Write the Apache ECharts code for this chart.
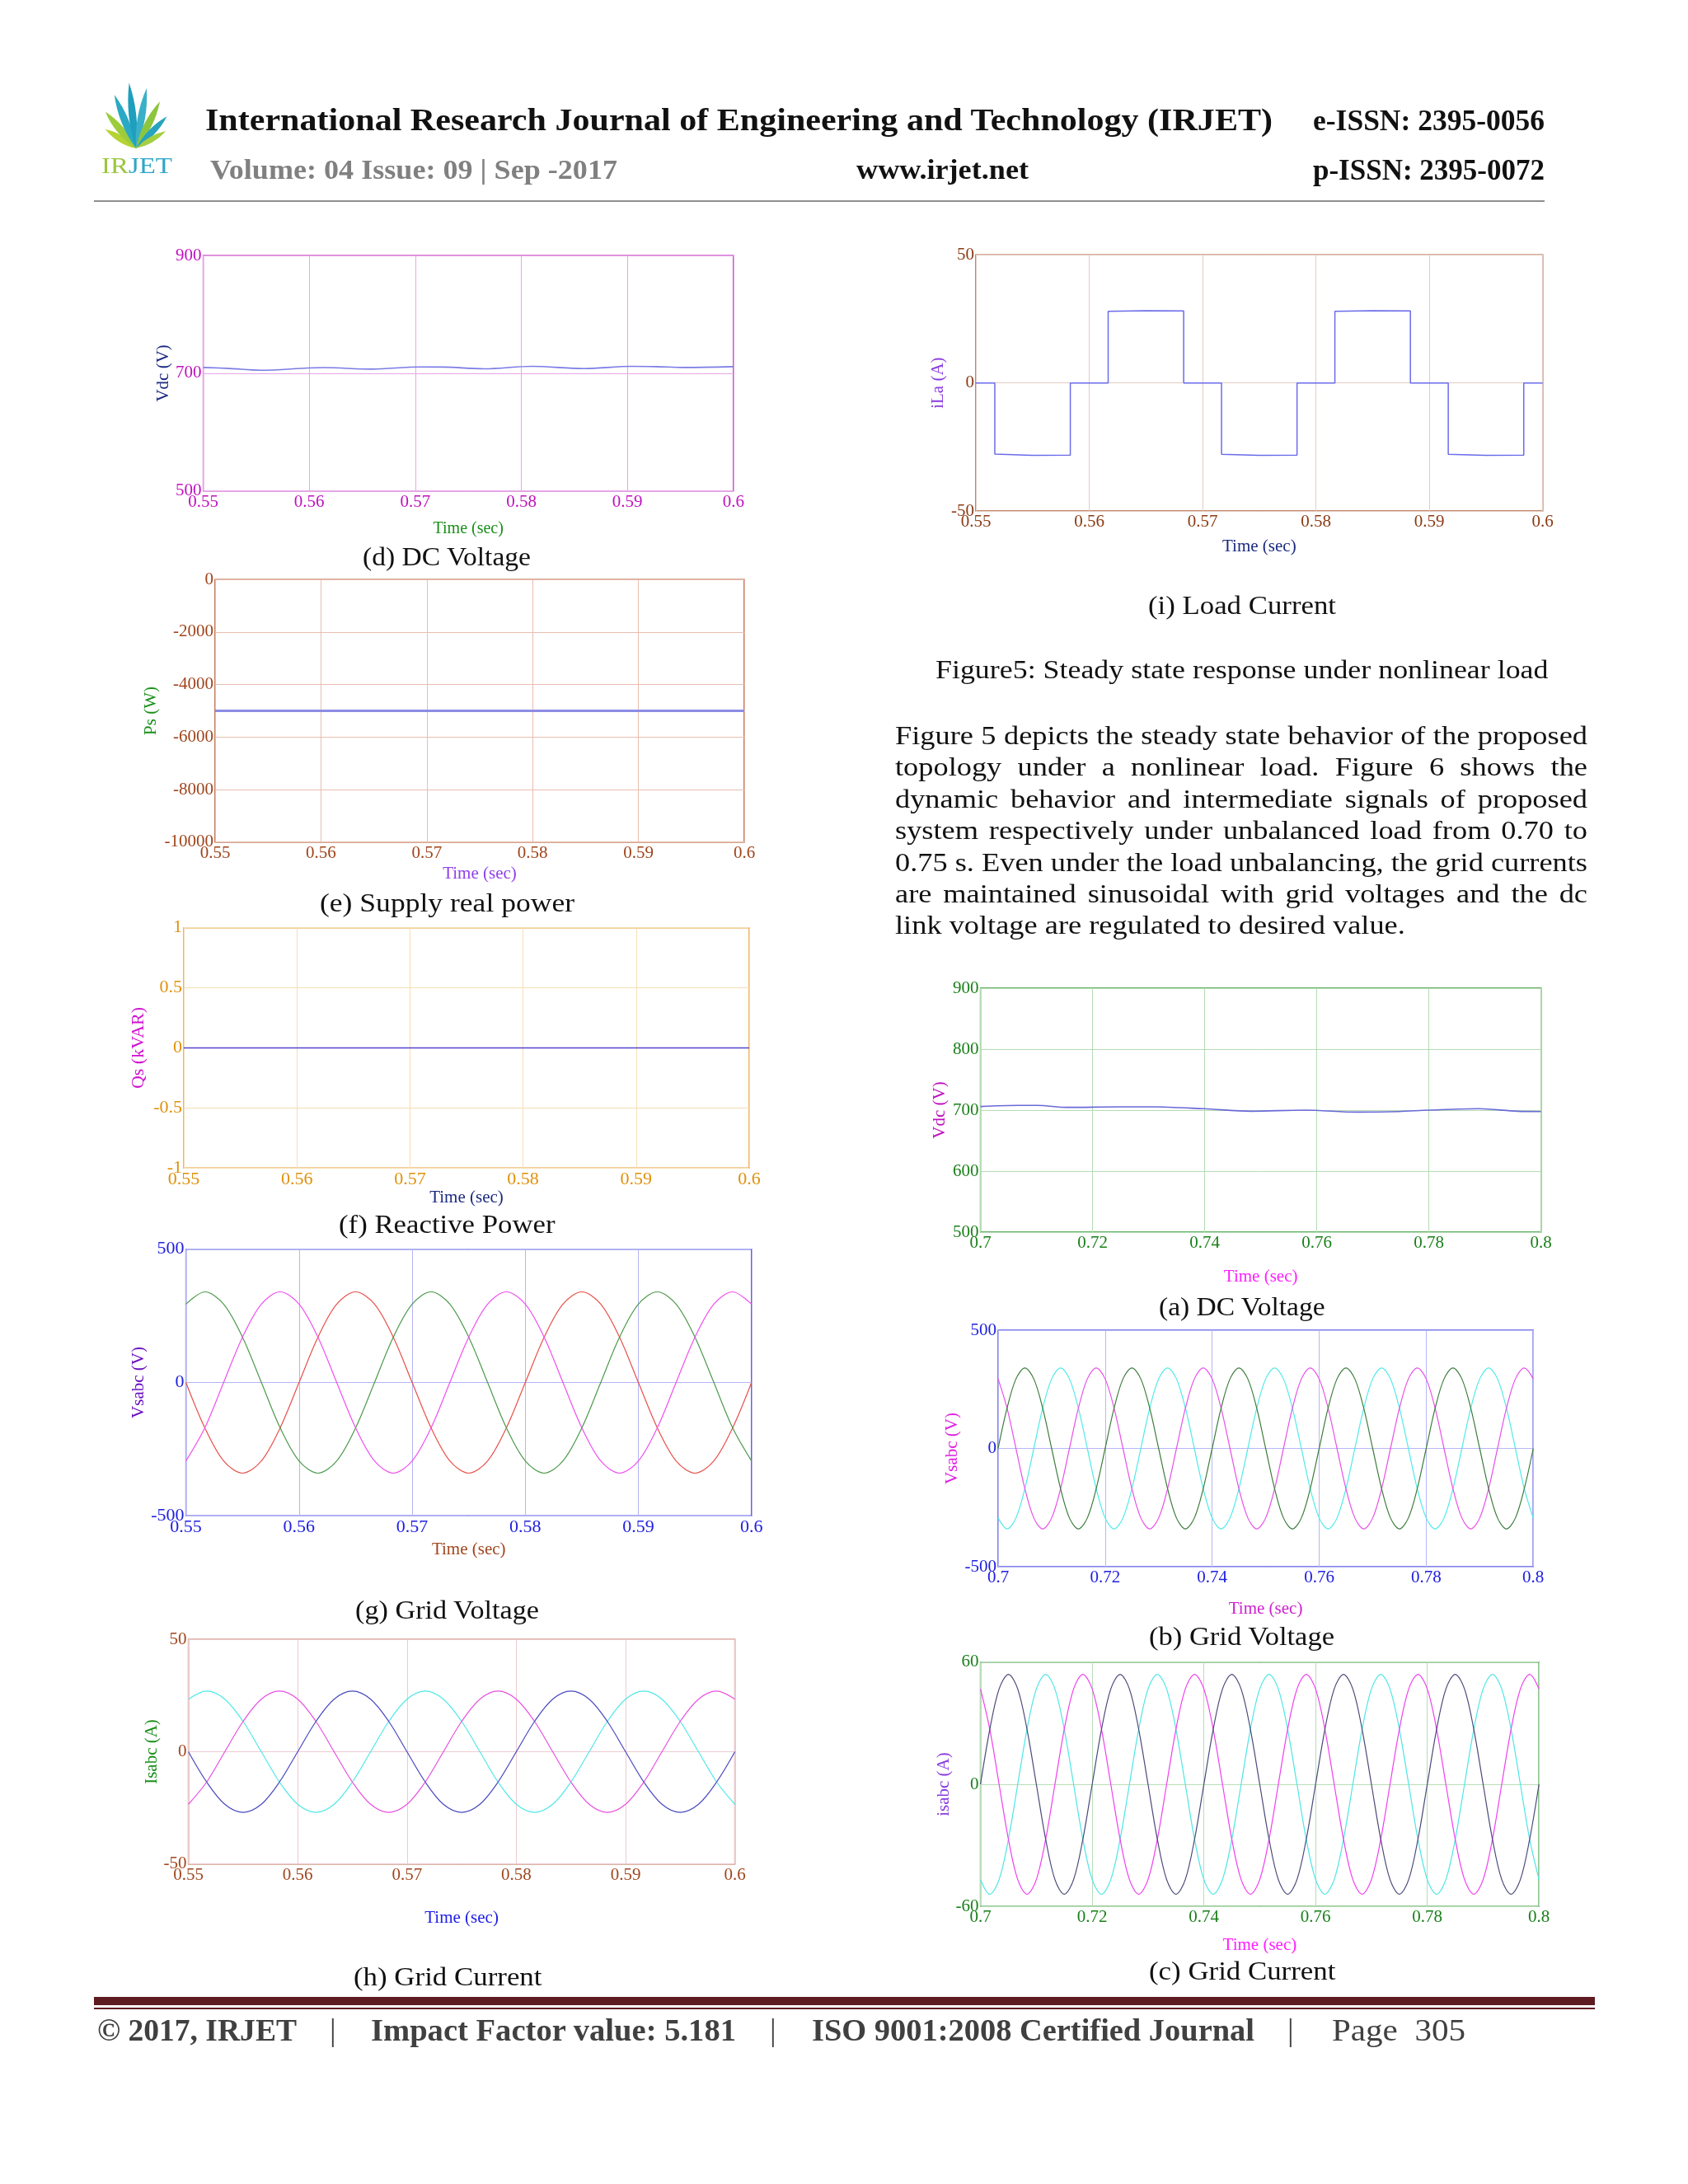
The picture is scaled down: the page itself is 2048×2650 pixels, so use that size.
<!DOCTYPE html>
<html><head><meta charset="utf-8">
<script src="https://cdn.jsdelivr.net/npm/echarts@6.0.0/dist/echarts.min.js"></script>
<style>
html,body{margin:0;padding:0;background:#fff;}
#page{position:relative;width:2048px;height:2650px;overflow:hidden;background:#fff;}
#chart{position:absolute;left:0;top:0;width:2048px;height:2650px;}
.t{position:absolute;white-space:nowrap;transform-origin:0 50%;font-family:'Liberation Serif',serif;color:#111;}
.b{font-weight:bold;}
.rule{position:absolute;}
</style></head>
<body><div id="page">
<div id="chart"></div>

<svg style="position:absolute;left:100px;top:95px" width="130" height="125" viewBox="0 0 130 125">
 <g transform="translate(65,85)">
  <path transform="rotate(-58)" d="M0,0 Q8,-22 0,-44 Q-8,-22 0,0Z" fill="#b5d334"/>
  <path transform="rotate(-40)" d="M0,0 Q9,-29 0,-58 Q-9,-29 0,0Z" fill="#9ccc3c"/>
  <path transform="rotate(-22)" d="M0,0 Q9,-35 0,-70 Q-9,-35 0,0Z" fill="#2aa9c4"/>
  <path transform="rotate(-6)" d="M0,0 Q9,-40 0,-80 Q-9,-40 0,0Z" fill="#1d9fbd"/>
  <path transform="rotate(10)" d="M0,0 Q9,-37 0,-74 Q-9,-37 0,0Z" fill="#3ab0c8"/>
  <path transform="rotate(27)" d="M0,0 Q9,-32 0,-64 Q-9,-32 0,0Z" fill="#8cc63f"/>
  <path transform="rotate(44)" d="M0,0 Q8,-27 0,-54 Q-8,-27 0,0Z" fill="#27a3bf"/>
  <path transform="rotate(60)" d="M0,0 Q7,-21 0,-42 Q-7,-21 0,0Z" fill="#a5cf40"/>
 </g>
 <text x="23" y="115" font-family="Liberation Serif" font-size="28" textLength="86" lengthAdjust="spacingAndGlyphs"><tspan fill="#9bc53d">IR</tspan><tspan fill="#2fa6c8">JET</tspan></text>
</svg>

<div class="t b" data-x="249" data-w="1295" data-cy="145" style="font-size:38px;color:#111">International Research Journal of Engineering and Technology (IRJET)</div>
<div class="t b" data-x="1593" data-w="281" data-cy="146" style="font-size:36px">e-ISSN: 2395-0056</div>
<div class="t b" data-x="255" data-w="494" data-cy="206" style="font-size:34px;color:#808080">Volume: 04 Issue: 09 | Sep -2017</div>
<div class="t b" data-x="1039" data-w="209" data-cy="206" style="font-size:34px">www.irjet.net</div>
<div class="t b" data-x="1593" data-w="281" data-cy="206" style="font-size:36px">p-ISSN: 2395-0072</div>
<div class="rule" style="left:114px;top:243px;width:1760px;height:2px;background:#8f8f8f"></div>

<div class="t" data-x="440" data-w="204" data-cy="675" style="font-size:31px">(d) DC Voltage</div>
<div class="t" data-x="1393" data-w="228" data-cy="734" style="font-size:31px">(i) Load Current</div>
<div class="t" data-x="1134.5" data-w="743.5" data-cy="812" style="font-size:31px">Figure5: Steady state response under nonlinear load</div>
<div class="t" data-x="388" data-w="309" data-cy="1095" style="font-size:31px">(e) Supply real power</div>
<div class="t" data-x="410.5" data-w="262.5" data-cy="1485" style="font-size:31px">(f) Reactive Power</div>
<div class="t" data-x="431" data-w="223" data-cy="1953" style="font-size:31px">(g) Grid Voltage</div>
<div class="t" data-x="428.5" data-w="228.5" data-cy="2398" style="font-size:31px">(h) Grid Current</div>
<div class="t" data-x="1406" data-w="201.5" data-cy="1585" style="font-size:31px">(a) DC Voltage</div>
<div class="t" data-x="1393.6" data-w="225" data-cy="1985" style="font-size:31px">(b) Grid Voltage</div>
<div class="t" data-x="1393.6" data-w="226.4" data-cy="2391" style="font-size:31px">(c) Grid Current</div>

<div class="t p" data-x="1085.7" data-w="840" data-j="1" data-cy="892.5" style="font-size:31px">Figure 5 depicts the steady state behavior of the proposed</div>
<div class="t p" data-x="1085.7" data-w="840" data-j="1" data-cy="930.9" style="font-size:31px">topology under a nonlinear load. Figure 6 shows the</div>
<div class="t p" data-x="1085.7" data-w="840" data-j="1" data-cy="969.3" style="font-size:31px">dynamic behavior and intermediate signals of proposed</div>
<div class="t p" data-x="1085.7" data-w="840" data-j="1" data-cy="1007.7" style="font-size:31px">system respectively under unbalanced load from 0.70 to</div>
<div class="t p" data-x="1085.7" data-w="840" data-j="1" data-cy="1046.1" style="font-size:31px">0.75 s. Even under the load unbalancing, the grid currents</div>
<div class="t p" data-x="1085.7" data-w="840" data-j="1" data-cy="1084.5" style="font-size:31px">are maintained sinusoidal with grid voltages and the dc</div>
<div class="t p" data-x="1085.7" data-j="1" data-last="1" data-cy="1122.9" style="font-size:31px">link voltage are regulated to desired value.</div>

<div class="rule" style="left:114px;top:2423px;width:1821px;height:10px;background:#5e1b21"></div>
<div class="rule" style="left:114px;top:2436px;width:1821px;height:2px;background:#5e1b21"></div>
<div class="t b" data-x="118" data-w="242" data-cy="2463" style="font-size:38px;color:#404040">© 2017, IRJET</div>
<div class="t" data-x="400" data-cy="2463" style="font-size:38px;color:#404040">|</div>
<div class="t b" data-x="450" data-w="443" data-cy="2463" style="font-size:38px;color:#404040">Impact Factor value: 5.181</div>
<div class="t" data-x="934" data-cy="2463" style="font-size:38px;color:#404040">|</div>
<div class="t b" data-x="985" data-w="537" data-cy="2463" style="font-size:38px;color:#404040">ISO 9001:2008 Certified Journal</div>
<div class="t" data-x="1562" data-cy="2463" style="font-size:38px;color:#404040">|</div>
<div class="t" data-x="1616" data-w="162" data-cy="2463" style="font-size:38px;color:#404040">Page&nbsp;&nbsp;305</div>
</div>

<script>
// ---------- DATA ----------
// (d) DC voltage, steady state
const tVdcD = [0.55, 0.5525, 0.5554, 0.5599, 0.5614, 0.5659, 0.5704, 0.5727, 0.5765, 0.581, 0.5859, 0.5904, 0.5927, 0.5953, 0.6];
const vVdcD = [709.8, 708, 705.1, 708.9, 709.5, 707, 710.7, 710.4, 707.5, 711.7, 707.9, 711.7, 711.2, 709.8, 711.2];
// (i) load current
const tLoad = [0.55, 0.55167, 0.55167, 0.555, 0.55833, 0.55833, 0.56167, 0.56167, 0.565, 0.56833, 0.56833, 0.57167, 0.57167, 0.575, 0.57833, 0.57833, 0.58167, 0.58167, 0.585, 0.58833, 0.58833, 0.59167, 0.59167, 0.595, 0.59833, 0.59833, 0.6];
const iLoad = [0, 0, -27.8, -28.3, -28.2, 0, 0, 28, 28.2, 28.1, 0, 0, -27.9, -28.3, -28.2, 0, 0, 28, 28.2, 28.1, 0, 0, -27.9, -28.3, -28.2, 0, 0];
// (e) supply real power, (f) reactive power
const tPs = [0.55, 0.575, 0.6];
const vPs = [-5000, -5000, -5000];
const tQs = [0.55, 0.575, 0.6];
const vQs = [0, 0, 0];
// steady-state sample times (g, h)
const tSS = [0.55, 0.55167, 0.55333, 0.555, 0.55667, 0.55833, 0.56, 0.56167, 0.56333, 0.565, 0.56667, 0.56833,
  0.57, 0.57167, 0.57333, 0.575, 0.57667, 0.57833, 0.58, 0.58167, 0.58333, 0.585, 0.58667, 0.58833,
  0.59, 0.59167, 0.59333, 0.595, 0.59667, 0.59833, 0.6];
// (g) grid voltage
const vgRed = [0, -170, -294, -340, -294, -170, 0, 170, 294, 340, 294, 170,
  0, -170, -294, -340, -294, -170, 0, 170, 294, 340, 294, 170,
  0, -170, -294, -340, -294, -170, 0];
const vgGreen = [294, 340, 294, 170, 0, -170, -294, -340, -294, -170, 0, 170,
  294, 340, 294, 170, 0, -170, -294, -340, -294, -170, 0, 170,
  294, 340, 294, 170, 0, -170, -294];
const vgMag = [-294, -170, 0, 170, 294, 340, 294, 170, 0, -170, -294, -340,
  -294, -170, 0, 170, 294, 340, 294, 170, 0, -170, -294, -340,
  -294, -170, 0, 170, 294, 340, 294];
// (h) grid current
const ihBlue = [0, -13.5, -23.4, -27, -23.4, -13.5, 0, 13.5, 23.4, 27, 23.4, 13.5,
  0, -13.5, -23.4, -27, -23.4, -13.5, 0, 13.5, 23.4, 27, 23.4, 13.5,
  0, -13.5, -23.4, -27, -23.4, -13.5, 0];
const ihCyan = [23.4, 27, 23.4, 13.5, 0, -13.5, -23.4, -27, -23.4, -13.5, 0, 13.5,
  23.4, 27, 23.4, 13.5, 0, -13.5, -23.4, -27, -23.4, -13.5, 0, 13.5,
  23.4, 27, 23.4, 13.5, 0, -13.5, -23.4];
const ihMag = [-23.4, -13.5, 0, 13.5, 23.4, 27, 23.4, 13.5, 0, -13.5, -23.4, -27,
  -23.4, -13.5, 0, 13.5, 23.4, 27, 23.4, 13.5, 0, -13.5, -23.4, -27,
  -23.4, -13.5, 0, 13.5, 23.4, 27, 23.4];
// (a) DC voltage, dynamic
const tVdcA = [0.7, 0.7066, 0.7102, 0.7154, 0.7249, 0.7307, 0.7399, 0.7483, 0.7578, 0.7673, 0.7746, 0.78, 0.7889, 0.7958, 0.8];
const vVdcA = [705.9, 707.7, 707.7, 704.5, 705.4, 705.4, 702.3, 698.2, 700, 696.8, 697.7, 700, 702.3, 698.2, 697.7];
// dynamic sample times (b, c)
const tDyn = [0.7, 0.70167, 0.70333, 0.705, 0.70667, 0.70833, 0.71, 0.71167, 0.71333, 0.715, 0.71667, 0.71833,
  0.72, 0.72167, 0.72333, 0.725, 0.72667, 0.72833, 0.73, 0.73167, 0.73333, 0.735, 0.73667, 0.73833,
  0.74, 0.74167, 0.74333, 0.745, 0.74667, 0.74833, 0.75, 0.75167, 0.75333, 0.755, 0.75667, 0.75833,
  0.76, 0.76167, 0.76333, 0.765, 0.76667, 0.76833, 0.77, 0.77167, 0.77333, 0.775, 0.77667, 0.77833,
  0.78, 0.78167, 0.78333, 0.785, 0.78667, 0.78833, 0.79, 0.79167, 0.79333, 0.795, 0.79667, 0.79833, 0.8];
// (b) grid voltage
const vbGreen = [0, 170, 294, 340, 294, 170, 0, -170, -294, -340, -294, -170,
  0, 170, 294, 340, 294, 170, 0, -170, -294, -340, -294, -170,
  0, 170, 294, 340, 294, 170, 0, -170, -294, -340, -294, -170,
  0, 170, 294, 340, 294, 170, 0, -170, -294, -340, -294, -170,
  0, 170, 294, 340, 294, 170, 0, -170, -294, -340, -294, -170, 0];
const vbCyan = [-294, -340, -294, -170, 0, 170, 294, 340, 294, 170, 0, -170,
  -294, -340, -294, -170, 0, 170, 294, 340, 294, 170, 0, -170,
  -294, -340, -294, -170, 0, 170, 294, 340, 294, 170, 0, -170,
  -294, -340, -294, -170, 0, 170, 294, 340, 294, 170, 0, -170,
  -294, -340, -294, -170, 0, 170, 294, 340, 294, 170, 0, -170, -294];
const vbMag = [294, 170, 0, -170, -294, -340, -294, -170, 0, 170, 294, 340,
  294, 170, 0, -170, -294, -340, -294, -170, 0, 170, 294, 340,
  294, 170, 0, -170, -294, -340, -294, -170, 0, 170, 294, 340,
  294, 170, 0, -170, -294, -340, -294, -170, 0, 170, 294, 340,
  294, 170, 0, -170, -294, -340, -294, -170, 0, 170, 294, 340, 294];
// (c) grid current
const icNavy = [0, 27, 46.8, 54, 46.8, 27, 0, -27, -46.8, -54, -46.8, -27,
  0, 27, 46.8, 54, 46.8, 27, 0, -27, -46.8, -54, -46.8, -27,
  0, 27, 46.8, 54, 46.8, 27, 0, -27, -46.8, -54, -46.8, -27,
  0, 27, 46.8, 54, 46.8, 27, 0, -27, -46.8, -54, -46.8, -27,
  0, 27, 46.8, 54, 46.8, 27, 0, -27, -46.8, -54, -46.8, -27, 0];
const icCyan = [-46.8, -54, -46.8, -27, 0, 27, 46.8, 54, 46.8, 27, 0, -27,
  -46.8, -54, -46.8, -27, 0, 27, 46.8, 54, 46.8, 27, 0, -27,
  -46.8, -54, -46.8, -27, 0, 27, 46.8, 54, 46.8, 27, 0, -27,
  -46.8, -54, -46.8, -27, 0, 27, 46.8, 54, 46.8, 27, 0, -27,
  -46.8, -54, -46.8, -27, 0, 27, 46.8, 54, 46.8, 27, 0, -27, -46.8];
const icMag = [46.8, 27, 0, -27, -46.8, -54, -46.8, -27, 0, 27, 46.8, 54,
  46.8, 27, 0, -27, -46.8, -54, -46.8, -27, 0, 27, 46.8, 54,
  46.8, 27, 0, -27, -46.8, -54, -46.8, -27, 0, 27, 46.8, 54,
  46.8, 27, 0, -27, -46.8, -54, -46.8, -27, 0, 27, 46.8, 54,
  46.8, 27, 0, -27, -46.8, -54, -46.8, -27, 0, 27, 46.8, 54, 46.8];

// ---------- text fitting ----------
const all = Array.from(document.querySelectorAll('.t'));
all.forEach(el => {
  const fs = parseFloat(getComputedStyle(el).fontSize);
  el.style.lineHeight = fs + 'px';
  el.style.top = (+el.dataset.cy - fs / 2) + 'px';
  el.style.left = el.dataset.x + 'px';
});
// paragraph: one common horizontal scale so the densest line fills the column, others justified by word spacing
const para = all.filter(el => el.dataset.j);
const colW = 840;
let maxNat = 0;
para.forEach(el => { el._nat = el.getBoundingClientRect().width; if (!el.dataset.last) maxNat = Math.max(maxNat, el._nat); });
const k = colW / maxNat;
para.forEach(el => {
  el.style.transform = 'scaleX(' + k + ')';
  if (el.dataset.last) return;
  const spaces = (el.textContent.match(/ /g) || []).length;
  if (spaces > 0) el.style.wordSpacing = ((colW - el._nat * k) / k / spaces) + 'px';
});
all.filter(el => !el.dataset.j && el.dataset.w).forEach(el => {
  const nat = el.getBoundingClientRect().width;
  el.style.transform = 'scaleX(' + (+el.dataset.w / nat) + ')';
});

// ---------- charts ----------
const FONT = 'Liberation Serif';
const zip = (t, v) => t.map((x, i) => [x, v[i]]);
const fmt = v => String(Math.round(v * 10000) / 10000);

const panels = [
  {box: [246.6, 310, 643.2, 285.7], x: [0.55, 0.6, 0.01], y: [500, 900, 200], frame: '#c850c8', gl: '#e8a6e8', tick: '#c010c0', fs: 21,
   yName: 'Vdc (V)', yc: '#1c2a80', yGap: 37, xc: '#1a8f1a', xGap: 36, xfs: 20,
   lines: [{t: tVdcD, v: vVdcD, c: '#7b7be6', w: 1.6, s: 0.33}]},
  {box: [1184, 309.3, 687.7, 310.7], x: [0.55, 0.6, 0.01], y: [-50, 50, 50], frame: '#b06030', gl: '#e3cbc3', tick: '#8b3a12', fs: 21,
   yName: 'iLa (A)', yc: '#8a3be0', yGap: 35.5, xc: '#1c2a80', xGap: 32.5,
   lines: [{t: tLoad, v: iLoad, c: '#6b6bea', w: 1.5}]},
  {box: [261, 703.3, 642, 318.4], x: [0.55, 0.6, 0.01], y: [-10000, 0, 2000], frame: '#b0502a', gl: '#e8beb0', tick: '#a0441a', fs: 21,
   yName: 'Ps (W)', yc: '#1a8f1a', yGap: 67.5, xc: '#9040e8', xGap: 28.5,
   lines: [{t: tPs, v: vPs, c: '#8c8ce6', w: 3}]},
  {box: [223, 1125.7, 686, 291.6], x: [0.55, 0.6, 0.01], y: [-1, 1, 0.5], frame: '#e8a030', gl: '#f6ddb4', tick: '#e0900a', fs: 22,
   yName: 'Qs (kVAR)', yc: '#d010d0', yGap: 44, xc: '#1c2a80', xGap: 24.7, yfs: 22,
   lines: [{t: tQs, v: vQs, c: '#5544cc', w: 1.5}]},
  {box: [225.6, 1515.7, 686.2, 323.6], x: [0.55, 0.6, 0.01], y: [-500, 500, 500], frame: '#5a5ae8', gl: '#b4b4f4', tick: '#2020e0', fs: 22,
   yName: 'Vsabc (V)', yc: '#6a10c0', yGap: 47, xc: '#a0461e', xGap: 31,
   lines: [{t: tSS, v: vgRed, c: '#e8504a', w: 1.2, s: 0.33}, {t: tSS, v: vgGreen, c: '#4c9a4c', w: 1.2, s: 0.33}, {t: tSS, v: vgMag, c: '#f050f0', w: 1.2, s: 0.33}]},
  {box: [228.6, 1989.3, 663, 272.4], x: [0.55, 0.6, 0.01], y: [-50, 50, 50], frame: '#b87048', gl: '#eccad0', tick: '#a0461e', fs: 21,
   yName: 'Isabc (A)', yc: '#1a8f1a', yGap: 34, xc: '#2020e8', xGap: 55.5,
   lines: [{t: tSS, v: ihCyan, c: '#50e8e8', w: 1.2, s: 0.33}, {t: tSS, v: ihMag, c: '#e850e0', w: 1.2, s: 0.33}, {t: tSS, v: ihBlue, c: '#4848c0', w: 1.2, s: 0.33}]},
  {box: [1189.6, 1199, 680.1, 296], x: [0.7, 0.8, 0.02], y: [500, 900, 100], frame: '#3a9a3a', gl: '#b4dcb4', tick: '#1a801a', fs: 21,
   yName: 'Vdc (V)', yc: '#c010c0', yGap: 39, xc: '#ff20ff', xGap: 43.5,
   lines: [{t: tVdcA, v: vVdcA, c: '#6a6ad8', w: 1.6, s: 0.33}]},
  {box: [1211, 1614, 649.2, 287], x: [0.7, 0.8, 0.02], y: [-500, 500, 500], frame: '#5a5ae8', gl: '#b8b8f4', tick: '#2020e0', fs: 21,
   yName: 'Vsabc (V)', yc: '#e020e0', yGap: 45.5, xc: '#d020d0', xGap: 41,
   lines: [{t: tDyn, v: vbCyan, c: '#50eaea', w: 1.2, s: 0.33}, {t: tDyn, v: vbMag, c: '#e850e8', w: 1.2, s: 0.33}, {t: tDyn, v: vbGreen, c: '#3d7d3d', w: 1.2, s: 0.33}]},
  {box: [1189.6, 2016.7, 677.6, 296.6], x: [0.7, 0.8, 0.02], y: [-60, 60, 60], frame: '#3a9a3a', gl: '#b8dcb8', tick: '#1a801a', fs: 21,
   yName: 'isabc (A)', yc: '#8a3be0', yGap: 24, xc: '#ff20ff', xGap: 37,
   lines: [{t: tDyn, v: icCyan, c: '#4ee6e6', w: 1.2, s: 0.33}, {t: tDyn, v: icMag, c: '#f040f0', w: 1.2, s: 0.33}, {t: tDyn, v: icNavy, c: '#4a4a7a', w: 1.2, s: 0.33}]}
];

const grids = [], xAxes = [], yAxes = [], series = [];
panels.forEach((p, i) => {
  grids.push({left: p.box[0], top: p.box[1], width: p.box[2], height: p.box[3], show: true,
    borderColor: p.frame, borderWidth: 1.5, backgroundColor: '#fff'});
  const common = {type: 'value', gridIndex: i, axisLine: {show: false}, axisTick: {show: false},
    splitLine: {show: true, lineStyle: {color: p.gl, width: 1}},
    nameLocation: 'middle'};
  xAxes.push(Object.assign({}, common, {min: p.x[0], max: p.x[1], interval: p.x[2],
    axisLabel: {color: p.tick, fontFamily: FONT, fontSize: p.fs, margin: 3, formatter: fmt},
    name: 'Time (sec)', nameGap: p.xGap,
    nameTextStyle: {color: p.xc, fontFamily: FONT, fontSize: p.xfs || 21}}));
  yAxes.push(Object.assign({}, common, {min: p.y[0], max: p.y[1], interval: p.y[2],
    axisLabel: {color: p.tick, fontFamily: FONT, fontSize: p.fs, margin: 2, formatter: fmt},
    name: p.yName, nameGap: p.yGap,
    nameTextStyle: {color: p.yc, fontFamily: FONT, fontSize: p.yfs || 21}}));
  p.lines.forEach(l => series.push({type: 'line', xAxisIndex: i, yAxisIndex: i, data: zip(l.t, l.v),
    showSymbol: false, symbol: 'none', smooth: l.s || false, silent: true,
    lineStyle: {color: l.c, width: l.w}}));
});

const chart = echarts.init(document.getElementById('chart'), null, {renderer: 'canvas'});
chart.setOption({animation: false, backgroundColor: 'transparent', grid: grids, xAxis: xAxes, yAxis: yAxes, series: series});
</script>
</body></html>
